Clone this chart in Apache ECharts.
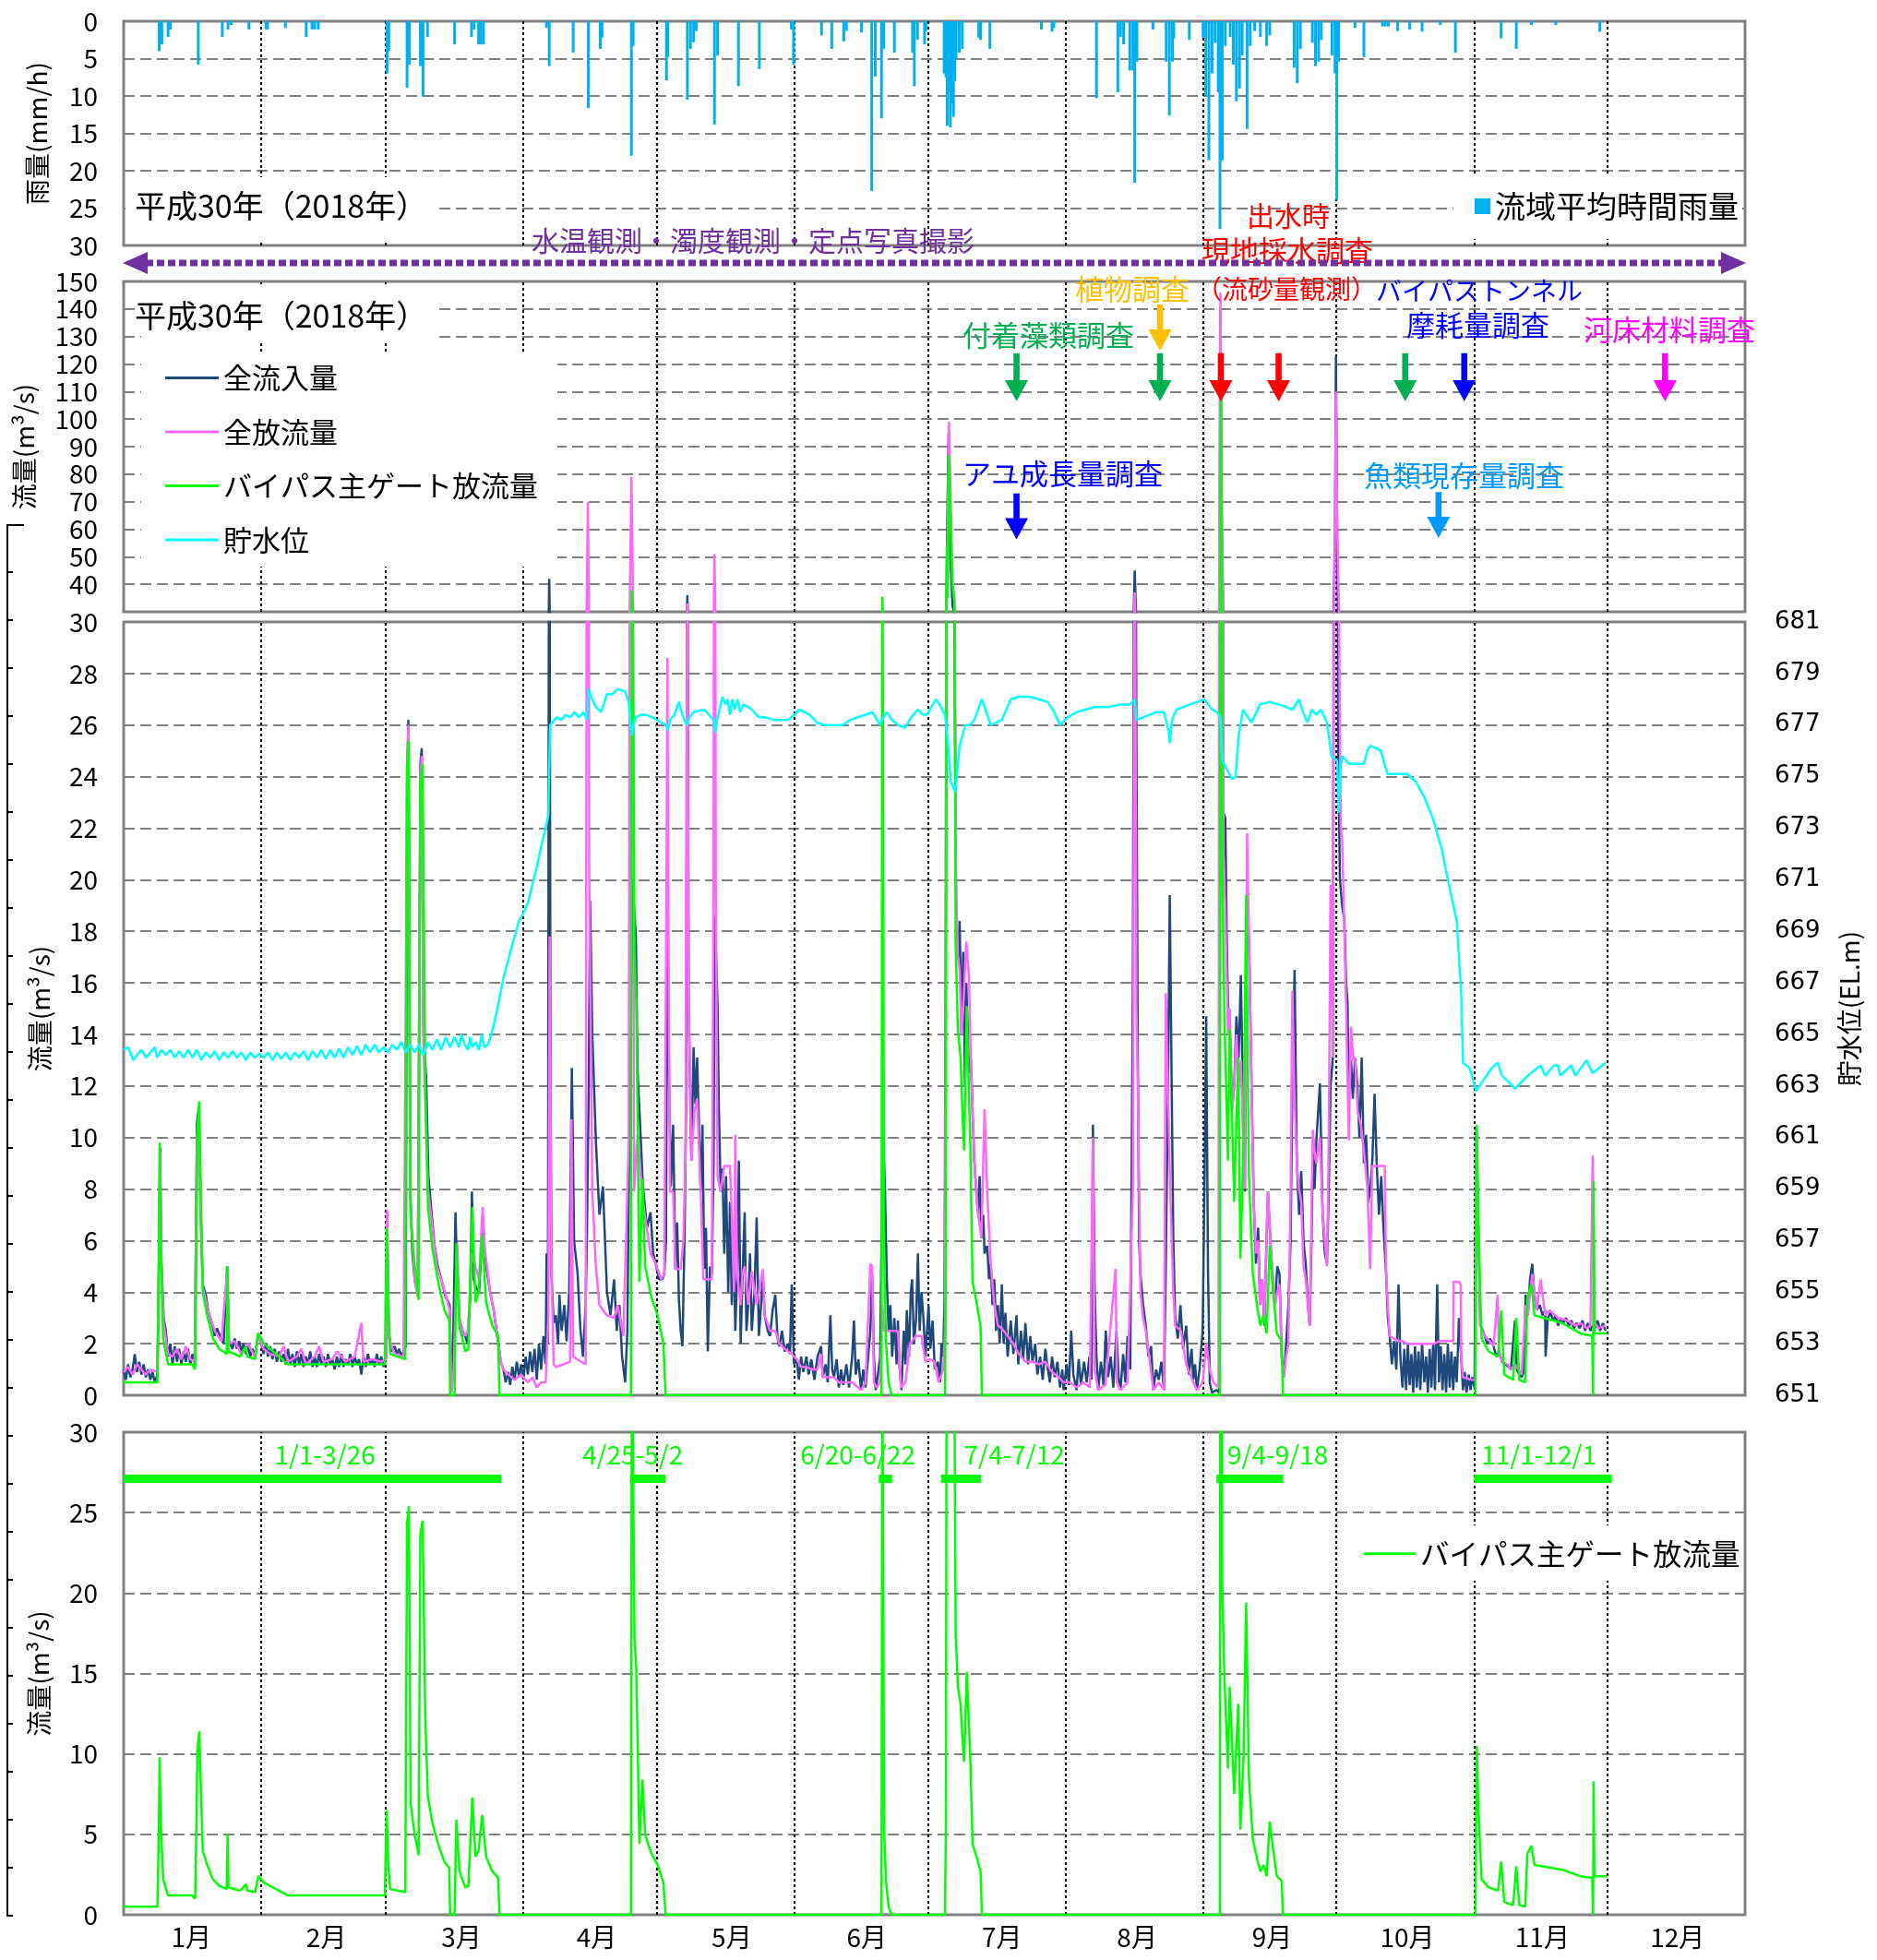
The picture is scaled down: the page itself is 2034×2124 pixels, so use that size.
<!DOCTYPE html>
<html>
<head>
<meta charset="utf-8">
<script src="https://cdn.jsdelivr.net/npm/echarts@6/dist/echarts.min.js"></script>
<style>
  html, body { margin: 0; padding: 0; background: #fff; }
  #chart { width: 2034px; height: 2124px; }
</style>
</head>
<body>
<div id="chart"></div>
<script>
// x = days since 1 Jan 2018 00:00
const months = ["1月", "2月", "3月", "4月", "5月", "6月", "7月", "8月", "9月", "10月", "11月", "12月"];
const monthStartDays = [31, 59, 90, 120, 151, 181, 212, 243, 273, 304, 334];

// 流域平均時間雨量 (mm/h)
const rainfall = [
  [8, 4], [8.6, 3.1], [10, 2.1], [10.5, 1.1], [16.8, 5.8], [22.2, 2.1], [23.5, 1.1], [24.2, 0.5],
  [28.2, 1.1], [32.1, 1.1], [32.4, 1.1], [36.4, 0.9], [41.1, 2.1], [42.4, 1.1], [43, 1.1], [43.8, 1.1],
  [59.3, 7], [59.7, 4], [63.8, 8.9], [64.3, 5.8], [66.8, 6], [67.4, 10.1], [68.4, 2.1], [74.5, 3.1],
  [78.3, 2.1], [78.9, 1.1], [79.9, 3.1], [80.4, 3.1], [81, 3.1], [95.2, 0.9], [95.8, 6], [101.2, 4.2],
  [104.6, 11.6], [107.3, 3.7], [107.7, 2.2], [114.3, 18], [114.7, 3.3], [122.2, 7.9], [122.5, 4.8],
  [126.9, 10.5], [127.6, 3.7], [128.3, 2.8], [128.9, 1.3], [133, 13.8], [133.7, 4.6], [138.4, 8.7],
  [143.1, 6.4], [150.3, 1.1], [150.8, 5.8], [157.1, 1.9], [159.4, 3.7], [162.1, 2.7], [162.7, 1.3],
  [166.1, 1.5], [168.4, 22.7], [169.2, 7.4], [170.6, 13], [171.1, 3.7], [173.5, 4.2], [177.6, 4.2],
  [178, 8.7], [178.7, 2.5], [180.3, 3.1], [180.6, 1.3], [184.7, 7], [185.1, 7.5], [185.4, 14],
  [185.7, 9.5], [186.1, 14.2], [186.4, 11], [186.8, 12.8], [187.1, 8], [187.4, 5], [188.1, 4.2],
  [188.8, 3.7], [192.5, 2.2], [192.9, 2.5], [195, 3.7], [206.6, 1.1], [209, 1.4], [209.4, 0.9],
  [219, 10.3], [223.8, 9.5], [224.4, 2.1], [225.1, 3.1], [226.5, 6.6], [227.2, 6.6], [227.6, 21.6],
  [228.1, 5.4], [231.7, 1.1], [234.7, 5.4], [235.4, 12.6], [236.1, 5.4], [236.4, 2.3], [239.9, 2.5],
  [243, 2.2], [243.6, 10.1], [244.3, 18.6], [245, 7], [245.7, 2.9], [246.4, 9.5], [246.8, 27.8],
  [247.3, 18.6], [248, 3.3], [249.1, 2.1], [249.8, 5.8], [250.5, 10.7], [251.2, 9], [251.8, 4.6],
  [252.9, 14.4], [253.6, 3.3], [254.6, 1.3], [255.9, 2.1], [257.3, 3.3], [258, 1.9], [263.5, 6.2],
  [264.2, 8.3], [264.9, 3.7], [267.6, 2.9], [268.3, 6], [269, 5.4], [269.6, 2.5], [272, 4.6],
  [272.7, 7], [273.1, 23.9], [273.5, 5.4], [277.2, 0.9], [279.2, 4.8], [283.4, 0.7], [284, 0.7],
  [284.7, 0.7], [286.8, 1.3], [289.5, 1.1], [292.3, 1.4], [296.4, 0.5], [299.8, 4.2], [310.1, 2.3],
  [313.5, 3.7], [316.9, 0.5], [322.4, 0.5], [332.3, 1.4]
];

// 全流入量 (m3/s)
const inflow = [
  [0, 1.0], [0.5, 0.6], [1, 1.2], [1.5, 0.7], [2, 1.0], [2.5, 1.6], [3, 0.9], [3.5, 1.3], [4, 0.8],
  [4.5, 1.2], [5, 0.7], [5.5, 1.0], [6, 0.6], [6.5, 0.9], [7, 0.5], [7.6, 0.8], [8, 6], [8.2, 9.6],
  [8.5, 5.2], [9, 3], [9.5, 2.5], [10, 1.5], [10.5, 2], [11, 1.2], [11.5, 1.9], [12, 1.3], [12.5, 1.8],
  [13, 1.2], [13.5, 1.7], [14, 1.3], [14.5, 1.8], [15, 1.2], [15.5, 1.6], [16, 1.2], [16.5, 10.5],
  [16.9, 11.2], [17.3, 7.5], [17.8, 4.3], [18.5, 3.9], [19, 3.3], [20, 2.7], [20.5, 2.3], [21, 2.6],
  [21.7, 2.3], [22.5, 2], [23.3, 5], [23.7, 2.1], [24.5, 1.8], [25, 2.2], [25.5, 1.8], [26, 2.1],
  [26.5, 1.7], [27, 2], [27.5, 1.6], [28, 1.9], [28.5, 1.5], [29, 1.8], [29.5, 1.5], [30.3, 2.4],
  [31, 2], [31.5, 1.6], [32, 2.0], [32.5, 1.5], [33, 1.9], [33.5, 1.4], [34, 1.8], [34.5, 1.3],
  [35, 1.7], [35.5, 1.3], [36, 1.6], [36.5, 1.2], [37, 1.8], [37.5, 1.2], [38, 1.6], [38.5, 1.1],
  [39, 1.7], [39.5, 1.2], [40, 1.6], [40.5, 1.1], [41, 1.5], [41.5, 1.2], [42, 1.7], [42.5, 1.1],
  [43, 1.5], [43.5, 1.1], [44, 1.6], [44.5, 1.2], [45, 1.5], [45.5, 1.1], [46, 1.6], [46.5, 1.2],
  [47, 1.4], [47.5, 1.0], [48, 1.5], [48.5, 1.1], [49, 1.6], [49.5, 1.1], [50, 1.4], [50.5, 1.2],
  [51, 1.6], [51.5, 1.1], [52, 1.5], [52.5, 1.2], [53, 1.4], [53.5, 0.8], [54, 1.5], [54.5, 1.1],
  [55, 1.6], [55.5, 1.2], [56, 1.4], [56.5, 1.1], [57, 1.6], [57.5, 1.2], [58, 1.5], [58.5, 1.1],
  [59.1, 1.5], [59.3, 7.0], [59.7, 2.5], [60.2, 1.7], [61, 1.9], [61.5, 1.6], [62, 1.8], [62.5, 1.5],
  [63, 1.7], [63.5, 1.9], [63.8, 24], [64.1, 26.2], [64.5, 8], [65, 5.5], [65.5, 4.5], [66.2, 3.9],
  [66.8, 24.5], [67.1, 25.1], [67.5, 14], [68.1, 12.3], [68.6, 8.5], [69.3, 7.1], [70, 5.8], [70.7, 5.0],
  [71.8, 4.3], [72.5, 3.8], [73.4, 3.5], [73.8, 0.2], [74.2, 2.3], [74.7, 7.1], [75.1, 4.5], [75.7, 2.6],
  [76.2, 2.3], [76.7, 2.4], [77.4, 2.0], [78, 3.8], [78.4, 7.9], [78.8, 4.5], [79.3, 4.2], [80, 4.0],
  [80.5, 5.5], [80.8, 7.0], [81.3, 5.5], [81.6, 5.0], [82.5, 4.0], [83.3, 3.3], [84.1, 2.3], [84.9, 1.3],
  [85.5, 1.0], [86, 0.5], [86.6, 0.9], [87, 0.4], [87.5, 1.1], [88, 0.6], [88.5, 1.3], [89, 0.7],
  [89.5, 1.2], [90, 0.6], [90.5, 1.5], [91, 0.8], [91.5, 1.7], [92, 0.9], [92.5, 1.8], [93, 0.6],
  [93.5, 2.0], [94, 1.0], [94.5, 2.3], [95, 1.2], [95.2, 5.5], [95.5, 2.0], [95.8, 42], [96.1, 12],
  [96.3, 4.7], [96.8, 2.8], [97.3, 3.1], [97.8, 2.0], [98.1, 3.9], [98.6, 2.5], [99.2, 3.5], [99.7, 2.1],
  [100.3, 4.0], [100.9, 12.7], [101.4, 6.0], [102.2, 4.7], [102.8, 2.6], [103.4, 1.5], [104, 3.5],
  [104.3, 6.3], [104.7, 12], [105, 19.2], [105.5, 14], [106.3, 9.9], [107.1, 7.0], [107.9, 8.1],
  [108.8, 4.0], [109.6, 3.1], [110.4, 4.5], [111, 2.5], [111.6, 3.5], [112.2, 1.5], [112.9, 0.5],
  [113.4, 2.5], [113.7, 8], [114.1, 12], [114.5, 20], [115.3, 17.9], [115.7, 12.5], [116.1, 11.1],
  [116.9, 8.1], [117.8, 6.5], [118.6, 7.1], [119.2, 5.5], [119.8, 5.1], [120.5, 4.5], [121.3, 4.5],
  [121.7, 4.7], [122.1, 6], [122.4, 19.6], [122.8, 12], [123.2, 8.1], [123.7, 10.5], [124.2, 4.9],
  [124.6, 6.7], [125, 3.7], [125.4, 2.5], [125.8, 1.9], [126.3, 6.5], [126.6, 11.1], [126.9, 36],
  [127.2, 15], [127.4, 13], [127.8, 9.1], [128.3, 13.5], [128.7, 11.3], [129.1, 13.1], [129.9, 7.9],
  [130.3, 10.5], [130.7, 4.9], [131.1, 6.5], [131.5, 1.7], [132, 5], [132.4, 4.7], [132.8, 9],
  [133.1, 18.6], [133.4, 18.6], [133.7, 15.1], [134, 11.1], [134.4, 7.9], [134.8, 8.8], [135.2, 5.5],
  [135.6, 8.5], [136.1, 4.0], [136.5, 7.5], [136.9, 3.5], [137.3, 6.0], [137.7, 2.5], [138.1, 4.7],
  [138.5, 9.1], [138.9, 2.0], [139.3, 4.5], [139.8, 7.1], [140.2, 2.5], [140.6, 3.5], [141, 5.5],
  [141.4, 2.5], [142, 4.0], [142.5, 6.9], [143, 2.3], [143.5, 3.5], [143.9, 4.7], [144.3, 3.1],
  [145, 2.5], [145.5, 2.3], [146.1, 3.3], [146.7, 3.9], [147.2, 2.2], [147.6, 1.9], [148.2, 2.5],
  [148.8, 1.7], [149.5, 2.0], [150, 1.6], [150.4, 4.3], [150.9, 1.2], [151.5, 1.4], [152, 0.6],
  [152.5, 1.5], [153, 0.9], [153.7, 1.5], [154.2, 0.8], [154.8, 1.4], [155.5, 0.6], [156.2, 1.5],
  [157, 1.9], [157.4, 0.7], [158, 1.2], [158.5, 0.5], [159.1, 3.1], [159.5, 1.0], [159.9, 0.7],
  [160.5, 1.4], [161, 0.3], [161.5, 1.0], [162, 0.4], [162.7, 1.2], [163.3, 0.3], [164, 1.5],
  [164.4, 2.9], [164.8, 0.8], [165.4, 1.4], [166, 0.2], [166.5, 1.0], [167, 0.3], [167.6, 1.5],
  [168.1, 2.5], [168.5, 4.7], [168.9, 1.5], [169.3, 0.2], [169.8, 0.8], [170.3, 1.5], [170.6, 6],
  [170.9, 10.7], [171.4, 7.9], [171.8, 4.5], [172.2, 2.5], [172.6, 3.5], [173, 1.5], [173.5, 3.0],
  [174, 1.2], [174.3, 2.9], [174.7, 1.0], [175.1, 0.2], [175.6, 2.5], [176, 1.2], [176.3, 3.3],
  [176.8, 1.5], [177.2, 4.0], [177.5, 4.5], [177.9, 2.0], [178.4, 3.0], [178.8, 5.5], [179.2, 2.5],
  [179.6, 4.0], [180, 3.1], [180.5, 1.5], [181.2, 3.5], [181.6, 1.8], [182.1, 2.9], [182.6, 1.0],
  [183.3, 1.3], [183.8, 0.5], [184.1, 2.0], [184.5, 1.5], [184.8, 3.9], [185.1, 20], [185.4, 60],
  [185.7, 95], [186.1, 50], [186.6, 32], [187, 30], [187.4, 18.8], [187.8, 17], [188.2, 18.4],
  [188.6, 14], [189, 17.2], [189.4, 12], [189.7, 16], [190.3, 12.5], [190.7, 13.1], [191.1, 11],
  [191.5, 9.1], [191.9, 8], [192.3, 7.1], [192.7, 8.5], [193.1, 6.1], [193.5, 7], [193.8, 5.5],
  [194.4, 5.8], [194.8, 4.5], [195.2, 5.1], [195.6, 3.5], [196, 4.5], [196.4, 2.5], [196.8, 3.5],
  [197.2, 2.0], [197.7, 4.3], [198.1, 2.0], [198.5, 3.2], [199, 1.5], [199.7, 2.9], [200.3, 1.6],
  [201, 3.1], [201.4, 1.2], [202, 2.5], [202.5, 1.4], [203, 2.8], [203.6, 1.2], [204.1, 2.3],
  [204.6, 1.3], [205.2, 2.0], [205.7, 0.8], [206.3, 1.5], [206.9, 0.6], [207.5, 1.8], [207.9, 1.2],
  [208.5, 0.5], [209, 1.5], [209.6, 0.7], [210.2, 1.3], [210.8, 0.3], [211.3, 1.0], [211.6, 0.2],
  [212.3, 1.2], [212.8, 0.4], [213.3, 2.5], [213.8, 0.8], [214.5, 0.2], [215, 1.4], [215.5, 0.4],
  [216.2, 1.3], [216.8, 0.5], [217.4, 1.5], [217.9, 0.6], [218.2, 10.5], [218.6, 4], [219, 1.5],
  [219.4, 0.2], [220, 1.3], [220.6, 0.4], [221.1, 2.5], [221.6, 0.7], [222.2, 1.5], [222.8, 0.3],
  [223.5, 2.5], [224, 0.6], [224.4, 0.2], [225, 1.6], [225.5, 0.5], [226, 2.3], [226.6, 1.0],
  [227.2, 16.3], [227.6, 45], [228, 25], [228.3, 13.1], [228.6, 6], [228.9, 4.7], [229.5, 3.5],
  [230.1, 2.7], [230.7, 1.5], [231.3, 1.9], [231.8, 0.2], [232.4, 1.0], [233, 0.6], [233.6, 1.3],
  [234.2, 0.2], [234.6, 5], [235.1, 12], [235.5, 19.4], [235.9, 12.5], [236.3, 6], [236.7, 3.1],
  [237.3, 2.2], [237.9, 3.5], [238.5, 1.8], [239.2, 2.7], [239.8, 0.8], [240.4, 1.8], [240.8, 0.6],
  [241.2, 1.2], [241.6, 0.2], [242.2, 1.0], [242.9, 2.5], [243.3, 8], [243.7, 14.7], [244.1, 5],
  [244.5, 0.5], [245, 0.1], [246, 0.2], [246.6, 0.1], [246.9, 140], [247.2, 60], [247.6, 22.6],
  [248, 22.4], [248.3, 18], [248.6, 15.1], [249, 14.5], [249.5, 11.1], [250, 12], [250.5, 14.7],
  [251, 13.1], [251.5, 16.3], [252, 11.1], [252.4, 7.9], [252.9, 20], [253.4, 17.1], [253.9, 12.1],
  [254.4, 7.5], [254.9, 5.1], [255.4, 6.5], [255.8, 3.5], [256.3, 4.5], [256.8, 2.7], [257.2, 5.5],
  [257.6, 7.9], [258.3, 5.5], [258.8, 4.0], [259.2, 3.5], [259.7, 5.0], [260.2, 4.7], [260.7, 1.5],
  [261.2, 0.7], [261.7, 2.0], [262.2, 3.5], [262.7, 6], [263.1, 12], [263.6, 16.5], [264.1, 9.1],
  [264.6, 7], [265.1, 8.7], [265.6, 6], [266.1, 5.1], [266.6, 3.5], [267, 2.7], [267.4, 6],
  [267.7, 9.5], [268.1, 8], [268.5, 9.9], [268.9, 11], [269.3, 12.1], [269.9, 7.1], [270.4, 5.5],
  [270.9, 5.1], [271.3, 8], [271.7, 12], [272.2, 13.1], [272.7, 60], [272.9, 123], [273.2, 50],
  [273.4, 25.4], [273.8, 20], [274.3, 19], [274.8, 18.4], [275.2, 16], [275.5, 15.3], [275.8, 12],
  [276.3, 13], [276.7, 11.5], [277.2, 13.1], [277.7, 12.1], [278.2, 10], [278.7, 13.1], [279.2, 9],
  [279.7, 10.1], [280.2, 7.5], [280.6, 8], [281.1, 9.1], [281.6, 11.7], [282.1, 8.9], [282.6, 7],
  [283.1, 8.5], [283.6, 6.5], [284.2, 4.7], [284.6, 3.0], [285, 2.3], [285.5, 1.2], [286, 2.1],
  [286.5, 1.0], [287, 4.3], [287.4, 1.5], [287.9, 0.3], [288.3, 1.8], [288.7, 0.2], [289.1, 2.0],
  [289.5, 0.4], [289.9, 1.6], [290.3, 0.1], [290.7, 1.9], [291.1, 0.3], [291.5, 1.7], [291.9, 0.2],
  [292.3, 2.0], [292.8, 0.5], [293.2, 1.5], [293.6, 0.1], [294, 1.8], [294.4, 0.3], [294.8, 2.0],
  [295.2, 0.2], [295.7, 4.3], [296.1, 0.5], [296.5, 1.9], [296.9, 0.2], [297.3, 1.6], [297.7, 0.1],
  [298.1, 2.0], [298.5, 0.3], [298.9, 1.7], [299.3, 0.2], [299.7, 1.5], [300.1, 0.5], [300.6, 3.0],
  [301, 1.8], [301.5, 0.2], [301.9, 0.9], [302.3, 0.1], [302.8, 0.8], [303.2, 0.2], [303.6, 0.7],
  [304.1, 0.3], [304.5, 10.4], [305, 6.3], [305.4, 2.7], [306, 2.5], [306.4, 2.3], [307, 2.0],
  [307.6, 2.2], [308.4, 1.9], [309, 1.5], [309.6, 1.7], [310.3, 1.3], [311, 1.2], [311.8, 1.1],
  [312.3, 1.0], [313.2, 2.9], [313.6, 1.0], [314.2, 0.8], [314.7, 0.7], [315.2, 0.9], [315.6, 3.9],
  [316.1, 3.1], [316.6, 4.5], [317.1, 5.1], [317.6, 3.8], [318.1, 3.3], [318.8, 3.5], [319.4, 3.1],
  [320, 3.3], [320.1, 1.5], [320.6, 3.0], [321.2, 3.2], [321.8, 2.9], [322.4, 3.1], [322.9, 2.7],
  [323.5, 3.0], [324.1, 2.8], [324.7, 3.0], [325.3, 2.7], [325.9, 2.9], [326.5, 2.6], [327.1, 2.8],
  [327.8, 2.6], [328.4, 2.9], [329, 2.5], [329.6, 2.8], [330.2, 2.5], [330.7, 2.7], [331.2, 2.6],
  [331.8, 2.9], [332.4, 2.5], [333, 2.8], [333.6, 2.5]
];

// 全放流量 (m3/s)
const outflow = [
  [0, 0.9], [1, 1.1], [2, 0.8], [3, 1.2], [4, 1.0], [5, 0.8], [6, 1.0], [7.6, 0.9], [8, 5.5], [8.2, 9.5],
  [8.5, 5.0], [9, 2.8], [10, 1.6], [11, 1.5], [12, 1.8], [13, 1.4], [14, 1.9], [15, 1.4], [16, 1.3],
  [16.5, 10.0], [16.9, 10.5], [17.3, 7.0], [17.8, 4.2], [19, 3.3], [20.5, 2.5], [22, 2.1], [23.3, 4.8],
  [23.7, 2.0], [25, 2.1], [26.5, 1.6], [28, 2.0], [29.5, 1.5], [30.3, 2.3], [31.5, 1.8], [33, 1.6],
  [35, 1.5], [36, 1.9], [37, 1.3], [39, 1.5], [40, 1.8], [41, 1.2], [43, 1.5], [44, 1.9], [45, 1.3],
  [47, 1.4], [48, 1.7], [50, 1.3], [52, 1.5], [53.5, 2.8], [54, 1.3], [56, 1.4], [58, 1.3], [59.1, 1.4],
  [59.3, 7.2], [59.7, 2.2], [61, 1.6], [63, 1.5], [63.8, 24], [64.1, 26.0], [64.5, 7.5], [65.5, 4.5],
  [66.2, 3.8], [66.8, 24], [67.1, 24.8], [67.5, 13.5], [68.5, 8.0], [69.5, 6.5], [70.5, 5.0], [72, 4.2],
  [73.4, 3.3], [73.8, 0.1], [74.3, 1.0], [75.1, 5.9], [75.6, 3.0], [76.7, 2.3], [77.5, 2.5], [78.4, 5.5],
  [79.2, 5.0], [80, 4.5], [80.8, 7.3], [81.3, 5.7], [82.5, 4.0], [83.3, 3.3], [84.1, 2.3], [84.9, 1.3],
  [85.5, 1.0], [86.6, 0.8], [88, 0.6], [89.5, 0.8], [91, 0.5], [92, 0.7], [93, 0.3], [94, 0.5], [95, 0.5],
  [95.6, 3], [95.9, 17.8], [96.3, 5.0], [96.8, 1.2], [97.3, 1.1], [99, 1.2], [100.5, 1.3], [100.8, 10.7],
  [101.2, 1.5], [103, 1.3], [104, 1.2], [104.3, 40], [104.5, 70], [104.8, 20.4], [105.5, 7.9], [106.3, 5],
  [107.1, 3.5], [108.8, 3.1], [110.4, 3.0], [111.2, 3.5], [112.5, 2.3], [113.7, 9.9], [114, 40],
  [114.3, 79], [114.9, 7.9], [115.7, 10.1], [116.9, 7.5], [118.6, 5.5], [119.8, 5.1], [121, 4.5],
  [121.7, 4.7], [122.2, 20], [122.4, 28.6], [122.7, 15.7], [123, 7.9], [123.7, 7.9], [124.2, 4.9],
  [125.4, 4.9], [126, 6], [126.5, 9.5], [126.9, 33], [127.2, 15], [127.4, 13.5], [127.8, 9.1],
  [128.5, 11], [129.1, 11.5], [129.9, 7.9], [130.5, 4.5], [131.5, 4.5], [132.4, 4.5], [132.8, 20],
  [133, 51], [133.3, 20], [133.7, 8.5], [134.4, 7.9], [135.2, 8.9], [136.5, 8.9], [136.9, 7.0],
  [137.4, 4], [137.7, 10.1], [138.1, 4.7], [138.9, 3.5], [139.3, 4.7], [139.8, 5.0], [140.6, 3.5],
  [141.4, 4.8], [142.5, 3.5], [143.9, 4.9], [144.3, 3.1], [145.5, 2.5], [146.7, 2.5], [147.6, 2.0],
  [148.8, 1.8], [150.4, 1.6], [151.5, 1.4], [152.5, 1.1], [153.7, 1.1], [155, 1.0], [156.2, 1.0],
  [157, 1.6], [157.4, 0.7], [158.5, 0.7], [159.9, 0.7], [161, 0.5], [162.5, 0.5], [164, 0.5],
  [166, 0.2], [167, 0.5], [168.1, 5.1], [168.5, 5.0], [168.9, 0.5], [169.5, 0.3], [170.3, 0.5],
  [170.8, 3.5], [171.2, 2.5], [172.2, 2.5], [174.3, 2.5], [175, 0.3], [176, 0.5], [177, 2.0],
  [178.4, 2.3], [179.6, 2.3], [180.5, 1.3], [181.5, 1.4], [182.5, 1.3], [183.5, 0.5], [184.5, 1.0],
  [184.9, 2.5], [185.2, 30], [185.5, 60], [185.8, 99], [186.2, 70], [186.6, 40], [187, 35],
  [187.4, 20], [187.8, 17], [188.2, 16.5], [188.6, 14], [189, 15], [189.7, 17.6], [190.3, 16.2],
  [190.7, 13.1], [191.5, 9.1], [192.3, 7.1], [193.1, 6.1], [193.8, 11.1], [194.4, 7.9], [195.2, 5.1],
  [196, 3.5], [196.8, 2.7], [197.7, 2.6], [199, 2.3], [200.3, 2.0], [201.5, 1.6], [203, 1.3],
  [204.6, 1.3], [206, 1.2], [207.5, 1.3], [209, 0.9], [210.5, 0.7], [211.6, 0.5], [213, 0.5],
  [214.5, 0.3], [216, 0.5], [217.5, 0.3], [218.2, 10], [218.6, 1.0], [219.4, 0.2], [221, 0.4],
  [223.3, 4.9], [223.6, 0.5], [224.4, 0.2], [226, 0.5], [227.2, 8], [227.6, 37], [228, 15], [228.3, 12],
  [228.9, 4.0], [229.5, 3.0], [230.1, 2.5], [231.8, 0.2], [233, 0.5], [234.2, 0.2], [234.6, 15.6],
  [235.2, 11], [235.6, 8], [236.3, 4], [236.7, 2.7], [238, 2.5], [239.2, 1.2], [240.8, 0.5], [241.6, 0.2],
  [242.9, 0.5], [243.7, 2.0], [244.5, 1.0], [245.3, 0.5], [246.5, 0.3], [246.9, 146], [247.2, 75],
  [247.6, 21], [248, 19], [248.6, 14], [249, 15], [249.5, 11], [250, 12], [250.5, 14], [251, 12],
  [251.5, 13], [252, 10], [252.4, 8], [252.9, 21.8], [253.4, 17], [253.9, 12], [254.4, 7.5], [254.9, 5.5],
  [255.4, 6], [255.8, 3.5], [256.3, 4.5], [256.8, 3], [257.6, 7.9], [258.3, 5.5], [258.8, 4.5],
  [259.2, 3.5], [259.7, 4], [260.2, 4.3], [260.7, 1.5], [261.2, 0.7], [261.7, 1.5], [262.2, 2],
  [262.7, 8], [263.1, 15.7], [263.5, 12], [264.1, 9], [264.6, 8], [265.1, 7.5], [265.6, 5], [266.1, 4.5],
  [266.6, 3.5], [267, 2.7], [267.7, 10.3], [268.1, 9.5], [268.5, 9.0], [269.3, 10], [269.9, 7.1],
  [270.4, 6], [270.9, 5], [271.3, 10], [271.7, 19.8], [272.2, 13.1], [272.6, 40], [272.9, 110],
  [273.2, 60], [273.6, 30], [274, 22], [274.3, 21.6], [274.8, 18], [275.2, 15], [275.8, 9.9],
  [276.3, 14.3], [276.8, 13], [277.2, 13.1], [277.8, 11], [278.5, 10.5], [279.2, 9.5], [280, 8],
  [280.6, 4.9], [281.1, 8.9], [282.1, 8.9], [283.1, 8.9], [283.9, 8.9], [284.2, 4.7], [285, 2.3],
  [286, 2.2], [287, 2.1], [287.9, 2.1], [289, 2.0], [292, 2.0], [295, 2.0], [296.2, 2.1], [298, 2.1],
  [299.3, 2.1], [299.4, 4.4], [300.6, 4.4], [301, 4.3], [301.1, 1.5], [301.5, 0.7], [303.5, 0.6],
  [304.3, 0.6], [304.5, 10.0], [305, 6], [305.4, 2.7], [306.4, 2.3], [307.5, 2.1], [308.4, 1.9],
  [309.3, 3.9], [309.6, 1.8], [310.3, 1.3], [311.5, 1.2], [312.3, 1.0], [313.2, 1.2], [314.7, 0.8],
  [315.6, 3.5], [316.1, 3.1], [317.1, 4.7], [318.1, 3.3], [319, 4.5], [320, 3.1], [321, 3.3],
  [322.9, 3.0], [325, 2.9], [326.8, 2.7], [328, 2.8], [329.3, 2.6], [330.2, 2.7], [330.7, 9.3],
  [331.2, 2.8], [332, 2.6], [333.6, 2.7]
];

// バイパス主ゲート放流量 (m3/s)
const bypassFlow = [
  [0, 0.5], [7.6, 0.5], [7.9, 5], [8.1, 9.8], [8.4, 5.3], [8.9, 2.2], [10, 1.2], [15.4, 1.2], [16.1, 1.0],
  [16.4, 6], [16.6, 10.2], [17, 11.4], [17.4, 7.7], [17.8, 4.0], [18.8, 3.1], [20.1, 2.2], [21.5, 1.8],
  [23.2, 1.6], [23.4, 5.0], [23.6, 1.7], [26.2, 1.5], [27.6, 1.9], [27.8, 1.5], [29.6, 1.4], [30.3, 2.4],
  [31.6, 2.0], [34.3, 1.6], [37, 1.2], [58.8, 1.2], [59.2, 6.5], [59.6, 3.0], [60, 1.6], [63.4, 1.4],
  [63.8, 24.3], [64.2, 25.4], [64.6, 6.9], [65.4, 5.2], [66.4, 3.7], [66.8, 23.7], [67.3, 24.5],
  [67.9, 12.2], [68.5, 7.3], [69.5, 5.7], [70.8, 4.4], [72.2, 3.3], [73.3, 2.9], [73.5, 0], [74.5, 0],
  [74.9, 5.9], [75.6, 2.7], [76.9, 1.7], [77.6, 1.8], [78.5, 7.3], [79.2, 3.6], [79.9, 4.0], [80.7, 6.2],
  [81.6, 3.6], [83, 2.7], [84.3, 2.3], [84.6, 0], [114.2, 0], [114.4, 37.7], [115, 17.2], [115.4, 15.3],
  [116.1, 4.4], [116.8, 8.4], [117.4, 5.0], [118.8, 3.8], [120.2, 3.1], [121.5, 2.0], [122, 0],
  [170.6, 0], [170.8, 35.5], [171.2, 5.3], [171.6, 2.1], [172.2, 0.5], [172.9, 0], [184.9, 0],
  [185.1, 5.8], [185.35, 54], [185.5, 35], [185.75, 87], [186.2, 60], [186.6, 40], [187, 34],
  [187.3, 17.5], [187.8, 14.2], [188.4, 13.1], [188.8, 11.1], [189.2, 9.5], [189.8, 15.1], [190.2, 12.4],
  [190.6, 9.7], [191.1, 4.4], [192, 3.6], [192.9, 2.7], [193.2, 0], [246.8, 0], [247, 107], [247.3, 20.6],
  [247.8, 14.7], [248.6, 9.1], [249, 14.2], [250, 7.5], [250.9, 13.1], [251.4, 5.3], [252.1, 9.7],
  [252.7, 19.4], [253.3, 8.6], [254.2, 4.7], [255.3, 3.3], [255.9, 2.7], [256.6, 3.1], [257.3, 2.4],
  [258, 5.8], [258.7, 4.2], [259.6, 2.4], [260.7, 2.1], [261, 0], [304.3, 0], [304.6, 10.5], [305, 6.4],
  [305.7, 2.2], [307.3, 1.7], [309.4, 1.5], [310.1, 3.3], [310.8, 0.8], [312.8, 0.6], [313.5, 3.0],
  [314.2, 0.6], [315.5, 0.5], [316, 3.8], [316.9, 4.3], [317.6, 3.1], [319.7, 3.0], [323.8, 2.8],
  [327.9, 2.4], [330.6, 2.3], [330.8, 0], [330.9, 8.3], [331.1, 2.4], [334, 2.4]
];

// 貯水位 (EL.m)
const waterLevel = [
  [0, 664.4], [1, 664.5], [1.7, 664.2], [2.2, 664.0], [3, 664.2], [4, 664.4], [5, 664.1], [6, 664.3],
  [7, 664.5], [7.5, 664.1], [8.5, 664.4], [9.5, 664.2], [10.5, 664.4], [11.5, 664.1], [12.5, 664.35],
  [13.5, 664.1], [14.5, 664.4], [15.5, 664.1], [16.5, 664.4], [17.5, 664.0], [18.5, 664.3], [19.5, 664.1],
  [20.5, 664.35], [21.5, 664.0], [22.5, 664.3], [23.5, 664.1], [24.5, 664.35], [25.5, 664.1], [26.5, 664.3],
  [27.5, 664.0], [28.5, 664.3], [29.5, 664.1], [30.5, 664.25], [31.5, 664.1], [32.5, 664.3], [33.5, 664.0],
  [34.5, 664.3], [35.5, 664.05], [36.5, 664.3], [37.5, 664.0], [38.5, 664.3], [39.5, 664.1], [40.5, 664.35],
  [41.5, 664.0], [42.5, 664.35], [43.5, 664.1], [44.5, 664.4], [45.5, 664.05], [46.5, 664.4], [47.5, 664.1],
  [48.5, 664.45], [49.5, 664.1], [50.5, 664.5], [51.5, 664.2], [52.5, 664.55], [53.5, 664.2], [54.5, 664.6],
  [55.5, 664.3], [56.5, 664.6], [57.5, 664.3], [58.5, 664.5], [59.5, 664.3], [60.5, 664.6], [61.5, 664.4],
  [62.5, 664.7], [63.5, 664.3], [64.5, 664.6], [65.5, 664.3], [66.5, 664.6], [67.5, 664.2], [68.5, 664.7],
  [69.5, 664.4], [70.5, 664.8], [71.5, 664.4], [72.5, 664.9], [73.5, 664.5], [74.5, 664.9], [75.5, 664.5],
  [76, 665.0], [76.8, 664.6], [77.5, 664.4], [78, 664.9], [78.5, 664.5], [79.2, 664.7], [80, 664.4],
  [80.6, 665.0], [81.2, 664.5], [82, 664.6], [82.6, 664.9], [83.5, 665.5], [84.5, 666.3], [85.5, 667.2],
  [86.6, 667.9], [87.5, 668.5], [88.2, 668.9], [89, 669.4], [90, 669.7], [91, 670.1], [92, 670.8],
  [93, 671.5], [94, 672.3], [95, 673.0], [95.6, 673.5], [96, 677.0], [96.5, 677.1], [97.5, 677.3],
  [98.5, 677.2], [99.5, 677.4], [100.5, 677.3], [101.5, 677.5], [102.5, 677.3], [103.5, 677.5],
  [104.3, 677.2], [104.7, 678.4], [105.5, 678.0], [106.3, 677.7], [107.5, 677.5], [108.8, 678.2],
  [110, 678.2], [111.2, 678.4], [112.9, 678.3], [113.7, 677.9], [114.3, 676.6], [114.8, 677.0],
  [115.3, 677.3], [116.5, 677.4], [117.6, 677.4], [119, 677.3], [122.1, 677.0], [122.5, 676.8],
  [123, 677.2], [124, 677.4], [125, 677.9], [125.6, 677.5], [126.2, 677.2], [126.8, 677.0], [127.4, 677.3],
  [128.3, 677.5], [130.7, 677.6], [132.8, 677.2], [133.2, 676.7], [133.6, 677.2], [134.8, 678.1],
  [135.5, 677.8], [136, 678.0], [136.5, 677.4], [137, 678.0], [137.6, 677.6], [138.2, 678.0],
  [138.8, 677.5], [139.5, 677.8], [140.6, 677.7], [141.4, 677.6], [143, 677.3], [144.5, 677.3],
  [146.3, 677.2], [148, 677.2], [149.6, 677.2], [151, 677.4], [152.1, 677.6], [153.3, 677.5],
  [154.5, 677.4], [156, 677.1], [157.8, 677.0], [160, 677.0], [161.9, 677.0], [163.5, 677.2],
  [165.2, 677.3], [167, 677.4], [168.5, 677.5], [169.3, 677.3], [170.2, 677.0], [171, 677.3],
  [171.8, 677.5], [173, 677.2], [174.3, 677.0], [175.9, 676.9], [177.3, 677.3], [178.8, 677.6],
  [180, 677.4], [180.8, 677.4], [182.9, 678.0], [184, 677.7], [184.9, 677.4], [185.5, 676.5],
  [186.2, 674.8], [187.2, 674.4], [188.2, 676.2], [189.5, 677.0], [190.5, 677.0], [191.5, 677.2],
  [193.2, 678.0], [194.2, 677.5], [195.2, 677.0], [196.5, 677.1], [197.7, 677.2], [199.7, 678.0],
  [201.5, 678.1], [203.8, 678.1], [206, 678.0], [208, 677.9], [209.5, 677.5], [210.8, 677.0],
  [212.5, 677.3], [214.5, 677.5], [216.5, 677.6], [218.6, 677.7], [221.5, 677.7], [224.4, 677.8],
  [226.5, 677.8], [227.6, 678.0], [228, 677.2], [229.5, 677.3], [230.9, 677.4], [232.5, 677.5],
  [234.2, 677.5], [235.2, 676.8], [235.5, 676.3], [236, 677.2], [237, 677.6], [238.5, 677.7],
  [240, 677.8], [241.8, 677.9], [243.3, 678.0], [245, 677.6], [246.1, 677.5], [246.9, 677.3],
  [247.3, 675.6], [248.3, 675.3], [249.5, 674.9], [250.3, 675.0], [251, 676.6], [252, 677.6],
  [253.1, 677.3], [253.9, 677.1], [255.8, 677.8], [258, 677.9], [260, 677.8], [261.7, 677.7],
  [263.1, 677.6], [264.6, 678.0], [265.5, 677.5], [266.5, 677.1], [267.5, 677.6], [268.5, 677.4],
  [269.5, 677.6], [270.9, 677.1], [271.9, 675.8], [273.2, 675.6], [273.5, 673.6], [274, 675.4],
  [274.3, 675.8], [275.8, 675.5], [277.5, 675.5], [279.2, 675.5], [280, 676.0], [280.6, 676.2],
  [282, 676.1], [283, 676.0], [284.5, 675.1], [286.5, 675.1], [288.9, 675.1], [290.9, 674.8],
  [292.8, 674.2], [294.7, 673.4], [296.7, 672.2], [298.6, 670.6], [300.1, 669.4], [300.6, 668.0],
  [301.1, 666.6], [301.5, 663.9], [303, 663.7], [304.5, 662.8], [306.4, 663.3], [308, 663.7],
  [309.3, 663.9], [310.3, 663.4], [313.2, 662.9], [316.1, 663.4], [319, 663.8], [320, 663.4],
  [322, 663.8], [322.9, 663.8], [323.4, 663.4], [325.9, 663.8], [326.8, 663.4], [329.3, 664.0],
  [330.7, 663.5], [333.6, 663.9]
];

// バイパス運用期間
const bypassPeriods = ["1/1-3/26", "4/25-5/2", "6/20-6/22", "7/4-7/12", "9/4-9/18", "11/1-12/1"];
const periodLabelDays = [45.3, 114.6, 165.3, 200.5, 259.8, 318.6];

// 調査日 (day of year)
const algaeSurvey = [201, 233.3, 288.5];
const plantSurvey = [233.3];
const floodSampling = [247, 260];
const abrasionSurvey = [301.8];
const bedMaterialSurvey = [347];
const ayuSurvey = [201];
const fishSurvey = [296];

window.addEventListener("load", function () {
  const chart = echarts.init(document.getElementById("chart"));
  const font = "'Noto Sans CJK JP', 'Noto Sans', sans-serif";
  const cum = [0, 31, 59, 90, 120, 151, 181, 212, 243, 273, 304, 334];
  const toDay = (md) => {
    const [m, d] = md.split("/").map(Number);
    return cum[m - 1] + d - 1;
  };
  const periods = bypassPeriods.map((p, i) => {
    const [a, b] = p.split("-");
    return [toDay(a), toDay(b) + 1, periodLabelDays[i], i];
  });

  const gridLine = { show: true, lineStyle: { color: "#808080", width: 2, type: [12, 6] } };
  const leftAxis = (grid, min, max, interval, name, gap, extra) =>
    Object.assign({
      type: "value", gridIndex: grid, min: min, max: max, interval: interval,
      axisLine: { show: false }, axisTick: { show: false },
      axisLabel: { fontSize: 28, color: "#000", margin: 28, fontFamily: font },
      splitLine: gridLine,
      name: name, nameLocation: "middle", nameGap: gap,
      nameTextStyle: { fontSize: 28, color: "#000", fontFamily: font }
    }, extra || {});

  const lineSeries = (name, data, color, xi, yi) => ({
    name: name, type: "line", xAxisIndex: xi, yAxisIndex: yi, data: data,
    showSymbol: false, symbol: "none", silent: true,
    lineStyle: { color: color, width: 2.5 }, itemStyle: { color: color }
  });

  const monthLines = (xi, yi) => ({
    type: "line", xAxisIndex: xi, yAxisIndex: yi, data: [], silent: true, z: 1,
    markLine: {
      z: 1, silent: true, symbol: ["none", "none"], label: { show: false },
      lineStyle: { color: "#000", width: 2, type: [3, 3] },
      data: monthStartDays.map((d) => ({ xAxis: d }))
    }
  });

  const arrowSeries = (days, color, top, bottom) => ({
    type: "custom", xAxisIndex: 1, yAxisIndex: 1, silent: true, z: 6,
    data: days.map((d) => [d]),
    renderItem: function (params, api) {
      const x = api.coord([api.value(0), top])[0];
      const y0 = api.coord([0, top])[1];
      const y1 = api.coord([0, bottom])[1];
      const hh = 23, hw = 12.5, sw = 3.3;
      return {
        type: "polygon",
        shape: { points: [[x - sw, y0], [x + sw, y0], [x + sw, y1 - hh], [x + hw, y1 - hh], [x, y1], [x - hw, y1 - hh], [x - sw, y1 - hh]] },
        style: { fill: color }
      };
    }
  });

  const white = (x, y, w, h) => ({ type: "rect", z: 3, shape: { x: x, y: y, width: w, height: h }, style: { fill: "#fff" } });
  const label = (text, x, y, color, size, align) => ({
    type: "text", z: 7, x: x, y: y,
    style: { text: text, fill: color, fontSize: size, fontFamily: font, align: align || "left", verticalAlign: "middle" }
  });

  const leftTicks = [];
  for (let y = 2076; y >= 575; y -= 52) {
    leftTicks.push({ type: "line", z: 3, shape: { x1: 7, y1: y, x2: 14, y2: y }, style: { stroke: "#000", lineWidth: 2 } });
  }

  const navy = "#1F497D", pink = "#FF66FF", green = "#00FF00", cyan = "#00FFFF";

  let option = {
    animation: false,
    backgroundColor: "#fff",
    textStyle: { fontFamily: font },
    grid: [
      { left: 134, right: 143, top: 23, height: 243, show: true, borderColor: "#808080", borderWidth: 3 },
      { left: 134, right: 143, top: 305, height: 358, show: true, borderColor: "#808080", borderWidth: 3 },
      { left: 134, right: 143, top: 674, height: 838, show: true, borderColor: "#808080", borderWidth: 3 },
      { left: 134, right: 143, top: 1552, height: 523, show: true, borderColor: "#808080", borderWidth: 3 }
    ],
    xAxis: [0, 1, 2, 3].map((i) => ({ type: "value", gridIndex: i, min: 0, max: 365, show: false })).concat([{
      type: "category", gridIndex: 3, data: months, position: "bottom", boundaryGap: true,
      axisLine: { show: false }, axisTick: { show: false }, splitLine: { show: false },
      axisLabel: { fontSize: 28, color: "#000", margin: 10, fontFamily: font }
    }]),
    yAxis: [
      leftAxis(0, 0, 30, 5, "雨量(mm/h)", 80, { inverse: true }),
      leftAxis(1, 30, 150, 10, "流量(m³/s)", 94, { axisLabel: { fontSize: 28, color: "#000", margin: 28, showMinLabel: false, fontFamily: font } }),
      leftAxis(2, 0, 30, 2, "流量(m³/s)", 77),
      {
        type: "value", gridIndex: 2, position: "right", min: 0, max: 30, interval: 2,
        axisLine: { show: false }, axisTick: { show: false }, splitLine: { show: false },
        axisLabel: { fontSize: 26, color: "#000", margin: 32, fontFamily: "'DejaVu Sans', sans-serif", formatter: (v) => String(v + 651) },
        name: "貯水位(EL.m)", nameLocation: "middle", nameGap: 99,
        nameTextStyle: { fontSize: 28, color: "#000", fontFamily: font }
      },
      leftAxis(3, 0, 30, 5, "流量(m³/s)", 78)
    ],
    legend: [
      {
        data: ["全流入量", "全放流量", "バイパス主ゲート放流量", "貯水位"],
        orient: "vertical", left: 179, top: 394, padding: 0, itemGap: 27.5,
        icon: "rect", itemWidth: 58, itemHeight: 3, selectedMode: false,
        textStyle: { fontSize: 31, color: "#000", lineHeight: 30, fontFamily: font }
      },
      {
        data: ["バイパス主ゲート放流量"],
        left: 1478, top: 1668, padding: 0, icon: "rect", itemWidth: 56, itemHeight: 3, selectedMode: false,
        textStyle: { fontSize: 31.5, color: "#000", lineHeight: 30, fontFamily: font }
      },
      {
        data: ["流域平均時間雨量"],
        left: 1598, top: 207, padding: 0, icon: "rect", itemWidth: 17, itemHeight: 17, selectedMode: false,
        textStyle: { fontSize: 33, color: "#000", lineHeight: 32, fontFamily: font }
      }
    ],
    graphic: [
      white(136, 192, 339, 68),
      white(1575, 190, 313, 69),
      white(153, 308, 322, 64),
      white(153, 381, 451, 233),
      white(1472, 1653, 416, 60),
      label("平成30年（2018年）", 146, 223, "#000", 34),
      label("平成30年（2018年）", 146, 342, "#000", 34),
      label("水温観測・濁度観測・定点写真撮影", 576, 261, "#7030A0", 30),
      label("出水時", 1396, 234, "#FF0000", 30, "center"),
      label("現地採水調査", 1302, 271, "#FF0000", 31),
      label("植物調査", 1165, 313, "#FFC000", 31),
      label("（流砂量観測）", 1296, 313, "#FF0000", 28),
      label("バイパストンネル", 1491, 315, "#0000FF", 28),
      label("付着藻類調査", 1043, 363, "#00B050", 31),
      label("摩耗量調査", 1524, 352, "#0000FF", 31),
      label("河床材料調査", 1716, 357, "#FF00FF", 31),
      label("アユ成長量調査", 1043, 513, "#0000FF", 31),
      label("魚類現存量調査", 1478, 515, "#0099FF", 31),
      { type: "line", z: 7, shape: { x1: 158, y1: 285, x2: 1867, y2: 285 }, style: { stroke: "#7030A0", lineWidth: 7, lineDash: [8, 4] } },
      { type: "polygon", z: 7, shape: { points: [[133, 285], [160, 273], [160, 297]] }, style: { fill: "#7030A0" } },
      { type: "polygon", z: 7, shape: { points: [[1892, 285], [1865, 273], [1865, 297]] }, style: { fill: "#7030A0" } },
      { type: "line", z: 3, shape: { x1: 8, y1: 568, x2: 8, y2: 2077 }, style: { stroke: "#000", lineWidth: 2 } },
      { type: "line", z: 3, shape: { x1: 8, y1: 569, x2: 26, y2: 569 }, style: { stroke: "#000", lineWidth: 2 } }
    ].concat(leftTicks),
    series: [
      monthLines(0, 0),
      monthLines(1, 1),
      monthLines(2, 2),
      monthLines(3, 4),
      {
        name: "流域平均時間雨量", type: "bar", xAxisIndex: 0, yAxisIndex: 0, data: rainfall,
        barWidth: 3, silent: true, itemStyle: { color: "#00B0F0" }
      },
      lineSeries("全流入量", inflow, navy, 1, 1),
      lineSeries("全放流量", outflow, pink, 1, 1),
      lineSeries("バイパス主ゲート放流量", bypassFlow, green, 1, 1),
      lineSeries("全流入量", inflow, navy, 2, 2),
      lineSeries("全放流量", outflow, pink, 2, 2),
      lineSeries("バイパス主ゲート放流量", bypassFlow, green, 2, 2),
      lineSeries("貯水位", waterLevel.map((p) => [p[0], p[1] - 651]), cyan, 2, 3),
      lineSeries("バイパス主ゲート放流量", bypassFlow, green, 3, 4),
      {
        type: "custom", xAxisIndex: 3, yAxisIndex: 4, silent: true, z: 6, data: periods,
        renderItem: function (params, api) {
          const p0 = api.coord([api.value(0), 27.1]);
          const p1 = api.coord([api.value(1), 27.1]);
          const pl = api.coord([api.value(2), 28.6]);
          return {
            type: "group",
            children: [
              { type: "rect", shape: { x: p0[0], y: p0[1] - 4.5, width: p1[0] - p0[0], height: 9 }, style: { fill: green } },
              {
                type: "text", x: pl[0], y: pl[1],
                style: { text: bypassPeriods[api.value(3)], fill: green, fontSize: 28, fontFamily: font, align: "center", verticalAlign: "middle" }
              }
            ]
          };
        }
      },
      arrowSeries(plantSurvey, "#FFC000", 141.6, 124.9),
      arrowSeries(algaeSurvey, "#00B050", 123.9, 106.4),
      arrowSeries(floodSampling, "#FF0000", 123.9, 106.4),
      arrowSeries(abrasionSurvey, "#0000FF", 123.9, 106.4),
      arrowSeries(bedMaterialSurvey, "#FF00FF", 123.9, 106.4),
      arrowSeries(ayuSurvey, "#0000FF", 73, 56.3),
      arrowSeries(fishSurvey, "#0099FF", 73.5, 56.8)
    ]
  };
  chart.setOption(option);
});
</script>
</body>
</html>
